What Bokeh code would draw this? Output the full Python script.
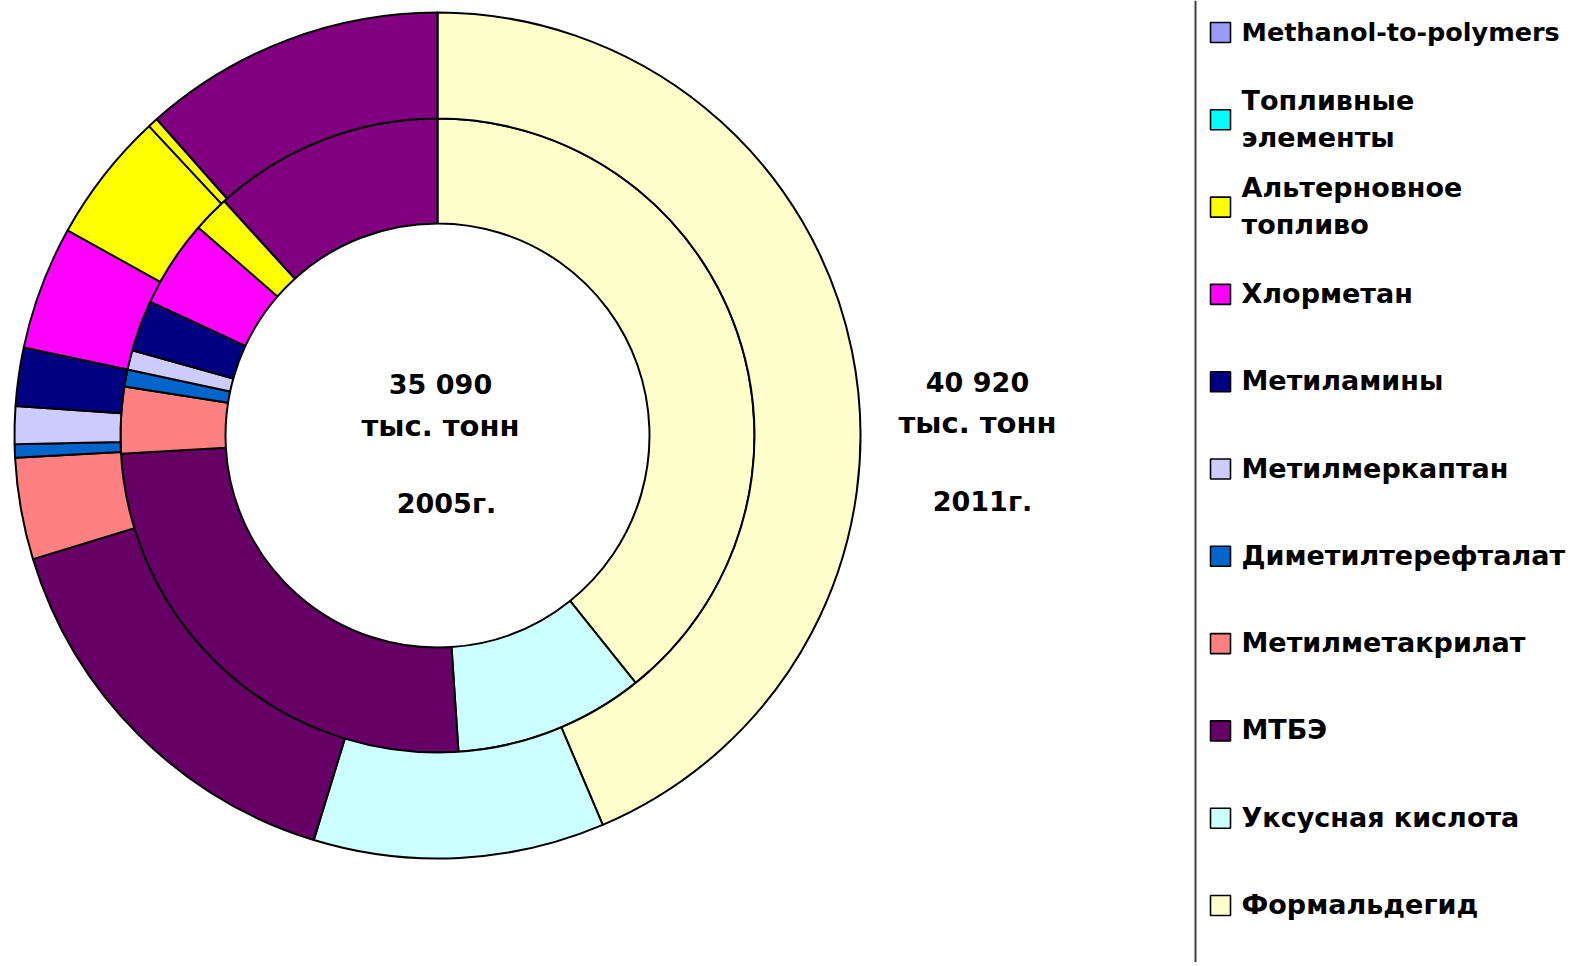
import math
from bokeh.plotting import figure
from bokeh.models import Range1d, ColumnDataSource
from bokeh.core.properties import value
from bokeh.embed import file_html
from bokeh.resources import INLINE

# ---------------- data ----------------
categories = ["Формальдегид", "Уксусная кислота", "МТБЭ", "Метилметакрилат",
              "Диметилтерефталат", "Метилмеркаптан", "Метиламины", "Хлорметан",
              "Альтерновное топливо", "Топливные элементы", "Methanol-to-polymers",
              "Прочее"]
values_2005 = [13773, 3402, 8821, 1189, 302, 351, 916, 1560, 653, 0, 0, 4123]
values_2011 = [17846, 4547, 6365, 1591, 205, 591, 909, 1932, 2046, 159, 0, 4729]
colors = ["#FFFFCC", "#CCFFFF", "#660066", "#FF8080", "#0066CC", "#CCCCFF",
          "#000080", "#FF00FF", "#FFFF00", "#00FFFF", "#9999FF", "#800080"]
# in the picture the thin fuel-cell slice of the outer ring is painted yellow
colors_2011 = colors[:9] + ["#FFFF00"] + colors[10:]

legend_labels = ["Methanol-to-polymers", "Топливные\nэлементы", "Альтерновное\nтопливо",
                 "Хлорметан", "Метиламины", "Метилмеркаптан", "Диметилтерефталат",
                 "Метилметакрилат", "МТБЭ", "Уксусная кислота", "Формальдегид"]
legend_categories = ["Methanol-to-polymers", "Топливные элементы", "Альтерновное топливо",
                     "Хлорметан", "Метиламины", "Метилмеркаптан", "Диметилтерефталат",
                     "Метилметакрилат", "МТБЭ", "Уксусная кислота", "Формальдегид"]
ring_totals = ["35 090", "40 920"]
ring_units = ["тыс. тонн", "тыс. тонн"]
ring_years = ["2005г.", "2011г."]

# ---------------- layout ----------------
W, H = 1575, 962
def X(rx):
    return rx
def Y(ry):
    return H - ry

p = figure(width=W, height=H, x_range=Range1d(0, W), y_range=Range1d(0, H),
           output_backend="svg", toolbar_location=None,
           x_axis_type=None, y_axis_type=None, min_border=0)
p.outline_line_color = None
p.grid.visible = False
p.background_fill_color = "white"
p.border_fill_color = "white"

cx, cy = X(437), Y(435)
r_hole, r_mid, r_out = 212, 317, 423

def ring(vals, cols, r0, r1):
    total = float(sum(vals))
    starts, ends, fills = [], [], []
    cum = 0.0
    for v, c in zip(vals, cols):
        if v <= 0:
            continue
        a0 = math.pi / 2 - 2 * math.pi * cum / total
        cum += v
        a1 = math.pi / 2 - 2 * math.pi * cum / total
        starts.append(a0); ends.append(a1); fills.append(c)
    src = ColumnDataSource(dict(x=[cx] * len(starts), y=[cy] * len(starts),
                                s=starts, e=ends, f=fills))
    p.annular_wedge(x="x", y="y", inner_radius=r0, outer_radius=r1,
                    start_angle="s", end_angle="e", direction="clock",
                    fill_color="f", line_color="black", line_width=2, source=src)

ring(values_2005, colors, r_hole, r_mid)
ring(values_2011, colors_2011, r_mid, r_out)

FONT = value("DejaVu Sans")

# centre captions
rows = [(ring_totals, [X(440), X(977)], [384, 382], "27px"),
        (ring_units, [X(440), X(977)], [425, 422], "29px"),
        (ring_years, [X(446), X(982)], [503, 501], "27px")]
for texts, xs, ys, fs in rows:
    p.text(x=xs, y=[Y(v) for v in ys], text=texts, text_font=FONT,
           text_font_style="bold", text_font_size=fs, text_align="center",
           text_baseline="middle", text_color="black")

# legend
p.segment(x0=[X(1195)], y0=[Y(0)], x1=[X(1195)], y1=[Y(966)],
          line_color="#404040", line_width=2)
step = 87.3
lx, ly, lc, tx, ty, tt, ts = [], [], [], [], [], [], []
for i, (lab, cat) in enumerate(zip(legend_labels, legend_categories)):
    yc = 32 + i * step
    lx.append(X(1220)); ly.append(Y(yc)); lc.append(colors[categories.index(cat)])
    lines = lab.split("\n")
    n = len(lines)
    size = "25.5px" if lab.isascii() else "27px"
    for j, line in enumerate(lines):
        off = (j - (n - 1) / 2) * 37
        tx.append(X(1241)); ty.append(Y(yc - 1 + off)); tt.append(line); ts.append(size)
p.rect(x=lx, y=ly, width=20, height=20, fill_color=lc, line_color="black", line_width=1.6)
src_t = ColumnDataSource(dict(x=tx, y=ty, t=tt, s=ts))
p.text(x="x", y="y", text="t", text_font_size="s", source=src_t, text_font=FONT,
       text_font_style="bold", text_align="left", text_baseline="middle",
       text_color="black")

open("out.html", "w").write(file_html(p, INLINE))
